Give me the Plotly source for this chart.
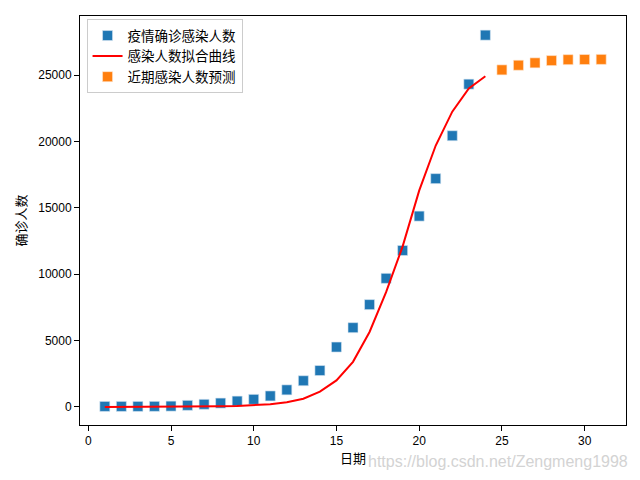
import plotly.graph_objects as go

days_actual = list(range(1, 25))
confirmed = [41, 41, 41, 45, 62, 121, 198, 291, 440, 571, 830, 1287, 1975, 2744,
             4515, 5974, 7711, 9692, 11791, 14380, 17205, 20438, 24324, 28018]
fit_values = [2, 3, 5, 8, 12, 18, 28, 45, 75, 125, 210, 360, 620, 1150,
              2000, 3400, 5650, 8650, 12100, 16300, 19700, 22250, 24000, 24920]
days_pred = list(range(25, 32))
pred_values = [25400, 25750, 25930, 26100, 26170, 26180, 26190]

x_ticks = [0, 5, 10, 15, 20, 25, 30]
y_ticks = [0, 5000, 10000, 15000, 20000, 25000]
y_tick_labels = ["0", "5000", "10000", "15000", "20000", "25000"]

FONT = "Noto Sans CJK SC, Liberation Sans, sans-serif"
TICKFONT = "Liberation Sans, Arial, sans-serif"

fig = go.Figure()
fig.add_trace(go.Scatter(x=days_actual, y=confirmed, mode="markers", name="疫情确诊感染人数",
                         marker=dict(symbol="square", size=10, color="#1f77b4",
                                     line=dict(width=0.6, color="#d6e6f2"))))
fig.add_trace(go.Scatter(x=days_actual, y=fit_values, mode="lines", name="感染人数拟合曲线",
                         line=dict(color="red", width=2)))
fig.add_trace(go.Scatter(x=days_pred, y=pred_values, mode="markers", name="近期感染人数预测",
                         marker=dict(symbol="square", size=10, color="#ff7f0e",
                                     line=dict(width=0.6, color="#ffe6d0"))))

axis_common = dict(showline=True, linecolor="black", linewidth=1, mirror=True,
                   ticks="outside", ticklen=5, tickcolor="black", showgrid=False,
                   zeroline=False, automargin=False,
                   tickfont=dict(size=12, color="black", family=TICKFONT))

fig.update_layout(
    width=632, height=472,
    margin=dict(l=72, r=14, t=8, b=55),
    paper_bgcolor="white", plot_bgcolor="white",
    font=dict(family=FONT, size=13, color="black"),
    xaxis=dict(range=[-0.5, 32.5], tickvals=x_ticks,
               title=dict(text="日期", standoff=5, font=dict(size=13)), **axis_common),
    yaxis=dict(range=[-1360, 29460], tickvals=y_ticks, ticktext=y_tick_labels,
               title=dict(text="确诊人数", standoff=8, font=dict(size=13)), **axis_common),
    legend=dict(x=0.012, y=0.992, xanchor="left", yanchor="top",
                bgcolor="rgba(255,255,255,0.8)", bordercolor="#cccccc", borderwidth=1,
                font=dict(size=13.5), tracegroupgap=0),
    showlegend=True,
    annotations=[dict(text="https://blog.csdn.net/Zengmeng1998", xref="paper", yref="paper",
                      x=1.0075, y=-0.09, xanchor="right", yanchor="middle", showarrow=False,
                      font=dict(size=16, color="#d3d3d3", family="Liberation Sans, Arial"))],
)

fig.write_html("out.html")
